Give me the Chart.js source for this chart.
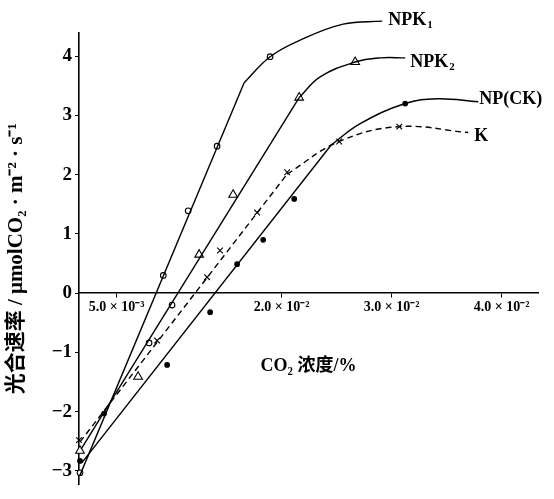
<!DOCTYPE html>
<html>
<head>
<meta charset="utf-8">
<script src="https://cdn.jsdelivr.net/npm/chart.js@4.4.0/dist/chart.umd.min.js"></script>
<style>
html, body { margin: 0; padding: 0; background: #fff; }
</style>
</head>
<body>
<canvas id="c" width="554" height="499"></canvas>
<script>
// measured points (CO2 concentration %, photosynthetic rate)
const npk1X = [0.00167, 0.00924, 0.01150, 0.01413, 0.01895, 0.02559];
const npk1Y = [-3.03, 0.30, 1.39, 2.48, 3.99, 4.54];
const npk2X = [0.00167, 0.00695, 0.00795, 0.01004, 0.01250, 0.01559, 0.02159, 0.02668];
const npk2Y = [-2.66, -1.41, -0.84, -0.20, 0.65, 1.66, 3.30, 3.90];
const npk2Marks = ['triangle', 'triangle', 'circle', 'circle', 'triangle', 'triangle', 'triangle', 'triangle'];
const npX = [0.00167, 0.00386, 0.00959, 0.01350, 0.01595, 0.01832, 0.02114, 0.03123];
const npY = [-2.83, -2.03, -1.21, -0.32, 0.49, 0.90, 1.59, 3.20];
const kX = [0.00158, 0.00868, 0.01322, 0.01440, 0.01777, 0.0205, 0.02523, 0.03069];
const kY = [-2.48, -0.80, 0.27, 0.72, 1.36, 2.04, 2.56, 2.81];

// fitted curves: straight part + bending part
const npk1LineX = [0.00167, 0.01659], npk1LineY = [-3.07, 3.55];
const npk1CurveX = [0.01659, 0.01895, 0.02168, 0.02559, 0.02914];
const npk1CurveY = [3.55, 3.99, 4.27, 4.54, 4.59];
const npk2LineX = [0.00177, 0.02159], npk2LineY = [-2.63, 3.30];
const npk2CurveX = [0.02159, 0.02350, 0.02668, 0.02896, 0.03123];
const npk2CurveY = [3.30, 3.65, 3.90, 3.97, 3.97];
const npLineX = [0.00185, 0.02450], npLineY = [-2.86, 2.50];
const npCurveX = [0.02450, 0.02714, 0.03123, 0.03414, 0.03787];
const npCurveY = [2.50, 2.86, 3.20, 3.28, 3.23];
const kLineX = [0.00167, 0.0205], kLineY = [-2.51, 2.01];
const kCurveX = [0.0205, 0.02523, 0.03069, 0.03696];
const kCurveY = [2.01, 2.56, 2.81, 2.71];

// tick labels
const xTickValues = [0.005, 0.02, 0.03, 0.04];
const xTickLabels = ['5.0 \u00d7 10\u207b\u00b3', '2.0 \u00d7 10\u207b\u00b2', '3.0 \u00d7 10\u207b\u00b2', '4.0 \u00d7 10\u207b\u00b2'];

// curve names at the line ends
const curveNames = ['NPK', 'NPK', 'NP(CK)', 'K'];
const curveSubs = ['1', '2', '', ''];
const nameX = [0.02968, 0.03168, 0.03796, 0.0375];
const nameY = [4.61, 3.90, 3.27, 2.65];

const serif = "'Liberation Serif', 'Times New Roman', serif";

function pts(xs, ys) {
  return xs.map((x, i) => ({ x: x, y: ys[i] }));
}

function lineSet(xs, ys, dashed, tension) {
  return {
    data: pts(xs, ys),
    showLine: true,
    borderColor: '#000',
    borderWidth: 1.4,
    borderDash: dashed ? [6, 4] : [],
    tension: tension,
    pointRadius: 0,
    fill: false,
    clip: false
  };
}

function markSet(xs, ys, style, radius, filled) {
  return {
    data: pts(xs, ys),
    showLine: false,
    pointStyle: style,
    pointRadius: radius,
    pointBorderColor: '#000',
    pointBackgroundColor: filled ? '#000' : '#fff',
    pointBorderWidth: 1.1,
    clip: false
  };
}

const namesPlugin = {
  id: 'names',
  afterDatasetsDraw(chart) {
    const ctx = chart.ctx;
    const xs = chart.scales.x, ys = chart.scales.y;
    ctx.save();
    ctx.fillStyle = '#000';
    ctx.textBaseline = 'middle';
    ctx.textAlign = 'left';
    curveNames.forEach((name, i) => {
      const px = xs.getPixelForValue(nameX[i]);
      const py = ys.getPixelForValue(nameY[i]);
      ctx.font = 'bold 18px ' + serif;
      ctx.fillText(name, px, py);
      if (curveSubs[i]) {
        const w = ctx.measureText(name).width;
        ctx.font = 'bold 11px ' + serif;
        ctx.fillText(curveSubs[i], px + w + 1, py + 5);
      }
    });
    ctx.restore();
  }
};

new Chart(document.getElementById('c'), {
  type: 'scatter',
  data: {
    datasets: [
      lineSet(npk1LineX, npk1LineY, false, 0),
      lineSet(npk1CurveX, npk1CurveY, false, 0.4),
      lineSet(npk2LineX, npk2LineY, false, 0),
      lineSet(npk2CurveX, npk2CurveY, false, 0.4),
      lineSet(npLineX, npLineY, false, 0),
      lineSet(npCurveX, npCurveY, false, 0.4),
      lineSet(kLineX, kLineY, true, 0),
      lineSet(kCurveX, kCurveY, true, 0.4),
      markSet(npk1X, npk1Y, 'circle', 2.8, false),
      markSet(npk2X, npk2Y, npk2Marks, npk2Marks.map(m => (m === 'circle' ? 2.8 : 5)), false),
      markSet(npX, npY, 'circle', 2.3, true),
      markSet(kX, kY, 'crossRot', 4, false)
    ]
  },
  options: {
    responsive: false,
    animation: false,
    layout: { padding: { top: 33, bottom: 11, right: 16, left: 0 } },
    plugins: {
      legend: { display: false },
      tooltip: { enabled: false }
    },
    scales: {
      x: {
        type: 'linear',
        position: { y: 0 },
        min: 0.00158,
        max: 0.0433,
        afterBuildTicks: s => { s.ticks = xTickValues.map(v => ({ value: v })); },
        ticks: {
          color: '#000',
          font: { family: serif, size: 14, weight: 'bold' },
          callback: (v) => {
            const i = xTickValues.indexOf(v);
            return i >= 0 ? xTickLabels[i] : '';
          },
          maxRotation: 0,
          padding: 2
        },
        grid: { display: true, drawOnChartArea: false, drawTicks: true, tickLength: 4, color: '#000' },
        border: { display: true, color: '#000', width: 1.6 },
        title: {
          display: true,
          text: 'CO\u2082 浓度/%',
          color: '#000',
          font: { family: serif + ", 'Noto Sans CJK SC'", size: 18, weight: 'bold' },
          padding: { top: 38 }
        }
      },
      y: {
        type: 'linear',
        min: -3.23,
        max: 4.39,
        afterFit: s => { s.width = 79; },
        ticks: {
          stepSize: 1,
          includeBounds: false,
          color: '#000',
          font: { family: serif, size: 19, weight: 'bold' },
          callback: v => (v < 0 ? '\u2212' + Math.abs(v) : String(v)),
          padding: 3
        },
        grid: { display: true, drawOnChartArea: false, drawTicks: true, tickLength: 4, color: '#000' },
        border: { display: true, color: '#000', width: 1.6 },
        title: {
          display: true,
          text: '光合速率 / μmolCO\u2082 · m\u207b\u00b2 · s\u207b\u00b9',
          color: '#000',
          font: { family: serif + ", 'Noto Sans CJK SC'", size: 21, weight: 'bold' },
          padding: { bottom: 0 }
        }
      }
    }
  },
  plugins: [namesPlugin]
});
</script>
</body>
</html>
